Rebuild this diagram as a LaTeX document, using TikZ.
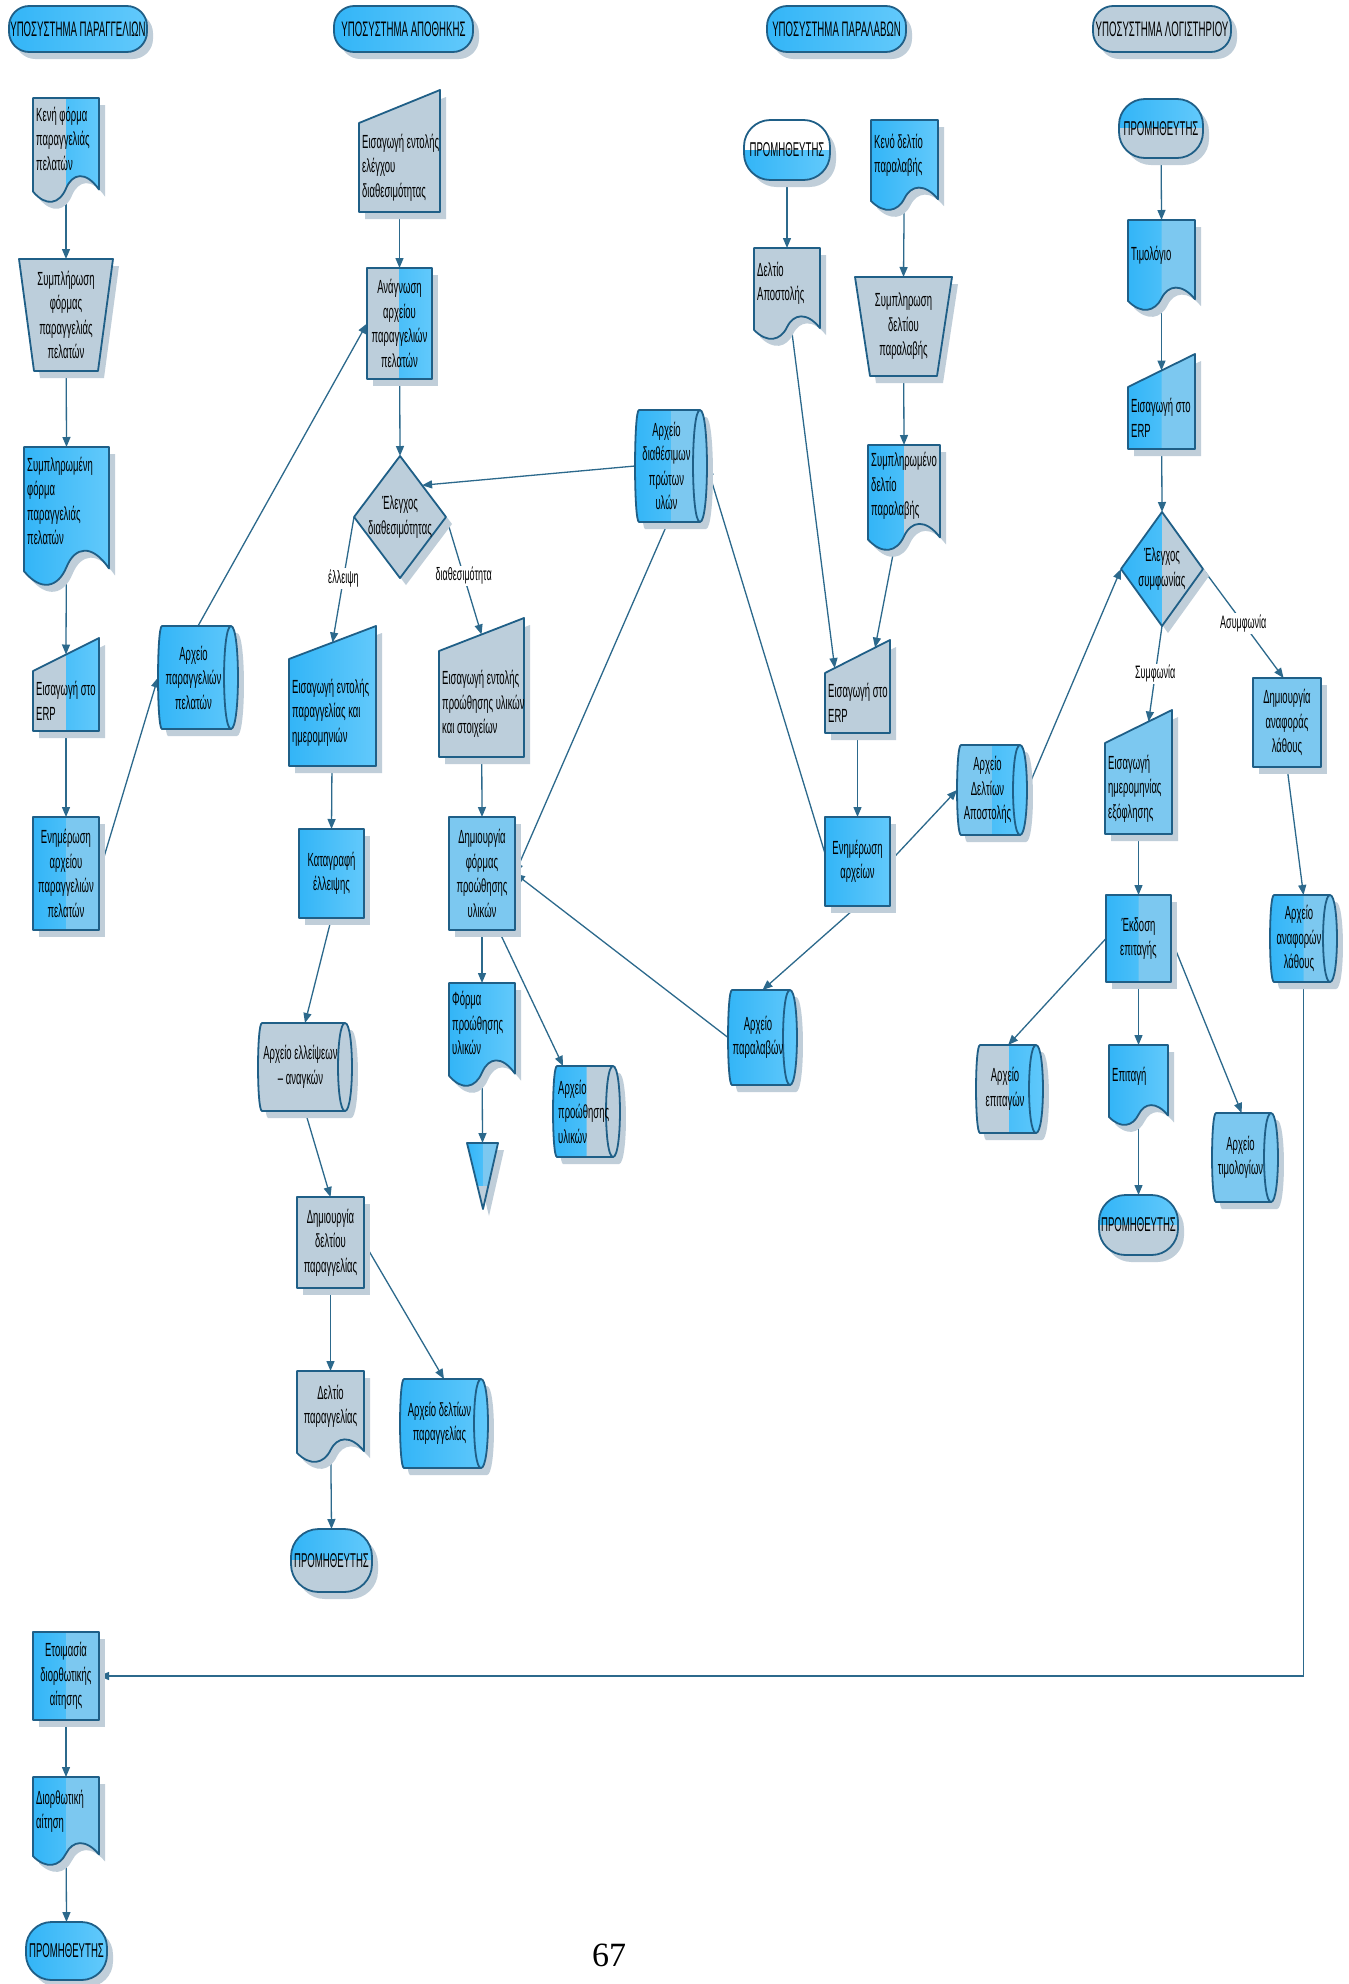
\documentclass[tikz,border=0pt]{standalone}
\usepackage{fontspec}
\newfontfamily\myNarrow[FakeStretch=0.5]{Liberation Sans}
\newfontfamily\myHead[FakeStretch=0.46]{Liberation Sans}
\newfontfamily\myPrm[FakeStretch=0.48]{Liberation Sans}
\newfontfamily\mySerif{Liberation Serif}
\usetikzlibrary{calc,arrows.meta}
\pgfdeclarelayer{bg}
\pgfsetlayers{bg,main}
\definecolor{cbA}{HTML}{33B5F7}
\definecolor{cbB}{HTML}{62C9FB}
\definecolor{cgray}{HTML}{BCCEDB}
\definecolor{chatch}{HTML}{7CC8F0}
\definecolor{coutl}{HTML}{1F5F87}
\definecolor{cline}{HTML}{2C698C}
\definecolor{cshad}{HTML}{C0CED9}
\newcommand{\tfont}{\myNarrow\fontsize{19}{24.5}\selectfont}
\newcommand{\hfont}{\myHead\fontsize{21}{23}\selectfont}
\newcommand{\pfont}{\myPrm\fontsize{20}{22}\selectfont}
\newcommand{\lfont}{\myNarrow\fontsize{18}{20}\selectfont}
\tikzset{
 fB/.style={left color=cbA,right color=cbB},
 fG/.style={fill=cgray},
 fH/.style={fill=chatch},
 fW/.style={fill=white},
 outl/.style={draw=coutl,line width=1.8pt,line join=round},
 shadowc/.style={fill=cshad},
 box/.style={rectangle,inner sep=0pt,outer sep=0pt},
 txl/.style={font=\tfont,inner sep=0pt,anchor=west,align=left},
 txc/.style={font=\tfont,inner sep=0pt,align=center},
 hdr/.style={font=\hfont,inner sep=0pt,align=center},
 prm/.style={font=\pfont,inner sep=0pt,align=center},
 lab/.style={font=\lfont,fill=white,inner sep=1.5pt},
 con/.style={draw=cline,line width=1.3pt,-{Triangle[length=10pt,width=8pt]}},
}
% generic shape: shadow, fill A, fill B in clip region, outline
\newcommand{\shp}[5][]{%
 \fill[shadowc,shift={(6,7)},#1] #2;
 \fill[#1,#3] #2;
 \begin{scope}\clip #5; \fill[#1,#4] #2;\end{scope}
 \draw[outl,#1] #2;}
\newcommand{\setdims}[5]{%
 \pgfmathsetmacro\sW{(#4)-(#2)}\pgfmathsetmacro\sH{(#5)-(#3)}%
 \pgfmathsetmacro\sM{((#2)+(#4))/2}\pgfmathsetmacro\sY{((#3)+(#5))/2}%
 \node[box,minimum width=\sW pt,minimum height=\sH pt] (#1) at (\sM,\sY) {};%
 \coordinate (#1-C) at (\sM,\sY);}
\newcommand{\Rect}[7]{\setdims{#1}{#2}{#3}{#4}{#5}%
 \shp{(#2,#3) rectangle (#4,#5)}{#6}{#7}{(\sM,#3-10) rectangle (#4+10,#5+10)}}
\newcommand{\Trap}[7]{\setdims{#1}{#2}{#3}{#4}{#5}%
 \shp{(#2,#3) -- (#4,#3) -- (#4-15,#5) -- (#2+15,#5) -- cycle}{#6}{#7}{(\sM,#3-10) rectangle (#4+10,#5+10)}}
\newcommand{\Doc}[7]{\setdims{#1}{#2}{#3}{#4}{#5}%
 \shp{(#2,#3) -- (#4,#3) -- (#4,#3+.88*\sH) .. controls (#2+.8*\sW,#3+.70*\sH) and (#2+.6*\sW,#3+.72*\sH) .. (\sM,#3+.87*\sH) .. controls (#2+.4*\sW,#3+1.02*\sH) and (#2+.2*\sW,#3+1.05*\sH) .. (#2,#3+.9*\sH) -- cycle}{#6}{#7}{(\sM,#3-10) rectangle (#4+10,#5+10)}%
 \coordinate (#1-L) at (#2+3,#3+.39*\sH);%
 \coordinate (#1-T) at (\sM,#3+.39*\sH);}
\newcommand{\MI}[7]{\setdims{#1}{#2}{#3}{#4}{#5}%
 \shp{(#2,#3+33) -- (#4,#3) -- (#4,#5) -- (#2,#5) -- cycle}{#6}{#7}{(\sM,#3-10) rectangle (#4+10,#5+10)}%
 \coordinate (#1-tl) at (#2,#3+33);\coordinate (#1-tr) at (#4,#3);%
 \coordinate (#1-L) at (#2+3,{(#3+33+#5)/2});}
\newcommand{\Cyl}[7]{\setdims{#1}{#2}{#3}{#4}{#5}%
 \shp{(#2+4,#3) -- (#4-7,#3) .. controls (#4+2.3,#3) and (#4+2.3,#5) .. (#4-7,#5) -- (#2+4,#5) .. controls (#2-1.3,#5) and (#2-1.3,#3) .. (#2+4,#3) -- cycle}{#6}{#7}{(\sM,#3-10) rectangle (#4+10,#5+10)}%
 \draw[outl] (#4-7,#3) .. controls (#4-16.3,#3) and (#4-16.3,#5) .. (#4-7,#5);%
 \coordinate (#1-C) at ({(#2+#4-9)/2},\sY);%
 \coordinate (#1-L) at (#2+5,\sY);}
\newcommand{\Term}[7]{\setdims{#1}{#2}{#3}{#4}{#5}\pgfmathsetmacro\sR{.44*\sH}%
 \shp[rounded corners=\sR pt]{(#2,#3) rectangle (#4,#5)}{#6}{#7}{(\sM,#3-10) rectangle (#4+10,#5+10)}}
\newcommand{\TermH}[7]{\setdims{#1}{#2}{#3}{#4}{#5}\pgfmathsetmacro\sR{.44*\sH}%
 \shp[rounded corners=\sR pt]{(#2,#3) rectangle (#4,#5)}{#6}{#7}{(#2-10,\sY) rectangle (#4+10,#5+10)}}
\newcommand{\Dia}[7]{\setdims{#1}{#2-#4}{#3-#5}{#2+#4}{#3+#5}%
 \shp{(#2,#3-#5) -- (#2+#4,#3) -- (#2,#3+#5) -- (#2-#4,#3) -- cycle}{#6}{#7}{(#2,#3-#5-10) rectangle (#2+#4+10,#3+#5+10)}}

\begin{document}
\begin{tikzpicture}[x=1pt,y=-1pt]
\useasboundingbox (0,0) rectangle (1349,1984);
\begin{pgfonlayer}{bg}\fill[white] (0,0) rectangle (1349,1984);\end{pgfonlayer}

% ---------- headers
\Term{h1}{9}{6}{147}{52}{fB}{fB}
\node[hdr] at (h1-C) {ΥΠΟΣΥΣΤΗΜΑ ΠΑΡΑΓΓΕΛΙΩΝ};
\Term{h2}{334}{6}{473}{52}{fB}{fB}
\node[hdr] at (h2-C) {ΥΠΟΣΥΣΤΗΜΑ ΑΠΟΘΗΚΗΣ};
\Term{h3}{767}{6}{906}{52}{fB}{fB}
\node[hdr] at (h3-C) {ΥΠΟΣΥΣΤΗΜΑ ΠΑΡΑΛΑΒΩΝ};
\Term{h4}{1093}{6}{1231}{52}{fG}{fG}
\node[hdr] at (h4-C) {ΥΠΟΣΥΣΤΗΜΑ ΛΟΓΙΣΤΗΡΙΟΥ};

% ---------- column 1
\Doc{a1}{33}{98}{99}{202}{fG}{fB}
\node[txl] at (a1-L) {Κενή φόρμα\\παραγγελιάς\\πελατών};
\Trap{a2}{19}{259}{113}{371}{fG}{fG}
\node[txc] at (a2-C) {Συμπλήρωση\\φόρμας\\παραγγελιάς\\πελατών};
\Doc{a3}{24}{447}{109}{585}{fB}{fB}
\node[txl] at (a3-L) {Συμπληρωμένη\\φόρμα\\παραγγελιάς\\πελατών};
\MI{a4}{33}{638}{99}{731}{fG}{fB}
\node[txl] at (a4-L) {Εισαγωγή στο\\ERP};
\Rect{a5}{33}{817}{99}{930}{fB}{fH}
\node[txc] at (a5-C) {Ενημέρωση\\αρχείου\\παραγγελιών\\πελατών};
\Cyl{a6}{158}{626}{238}{729}{fB}{fB}
\node[txc] at (a6-C) {Αρχείο\\παραγγελιών\\πελατών};
\Rect{a7}{33}{1632}{99}{1720}{fB}{fH}
\node[txc] at (a7-C) {Ετοιμασία\\διορθωτικής\\αίτησης};
\Doc{a8}{33}{1777}{99}{1865}{fB}{fH}
\node[txl] at (a8-L) {Διορθωτική\\αίτηση};
\Term{a9}{26}{1922}{107}{1980}{fB}{fB}
\node[prm] at (a9-C) {ΠΡΟΜΗΘΕΥΤΗΣ};

% ---------- column 2
\MI{b1}{359}{90}{440}{212}{fG}{fG}
\node[txl] at (b1-L) {Εισαγωγή εντολής\\ελέγχου\\διαθεσιμότητας};
\Rect{b2}{367}{268}{432}{379}{fG}{fB}
\node[txc] at (b2-C) {Ανάγνωση\\αρχείου\\παραγγελιών\\πελατών};
\Dia{b3}{400}{517}{46}{61}{fG}{fG}
\node[txc] at (b3-C) {Έλεγχος\\διαθεσιμότητας};
\MI{b4}{289}{626}{376}{766}{fB}{fB}
\node[txl] at (b4-L) {Εισαγωγή εντολής\\παραγγελίας και\\ημερομηνιών};
\Rect{b5}{299}{829}{364}{918}{fB}{fB}
\node[txc] at (b5-C) {Καταγραφή\\έλλειψης};
\Cyl{b6}{258}{1023}{352}{1111}{fG}{fG}
\node[txc] at (b6-C) {Αρχείο ελλείψεων\\– αναγκών};
\Rect{b7}{297}{1197}{364}{1288}{fG}{fG}
\node[txc] at (b7-C) {Δημιουργία\\δελτίου\\παραγγελίας};
\Doc{b8}{297}{1371}{364}{1462}{fG}{fG}
\node[txc] at (b8-T) {Δελτίο\\παραγγελίας};
\Cyl{b9}{400}{1379}{488}{1468}{fB}{fB}
\node[txc] at (b9-C) {Αρχείο δελτίων\\παραγγελίας};
\TermH{b10}{291}{1529}{372}{1592}{fB}{fG}
\node[prm] at (b10-C) {ΠΡΟΜΗΘΕΥΤΗΣ};
\MI{b11}{439}{618}{524}{757}{fG}{fG}
\node[txl] at (b11-L) {Εισαγωγή εντολής\\προώθησης υλικών\\και στοιχείων};
\Rect{b12}{449}{817}{515}{930}{fH}{fH}
\node[txc] at (b12-C) {Δημιουργία\\φόρμας\\προώθησης\\υλικών};
\Doc{b13}{449}{983}{515}{1086}{fB}{fB}
\node[txl] at (b13-L) {Φόρμα\\προώθησης\\υλικών};
% off-page connector
\fill[shadowc] (473,1150) -- (504,1150) -- (489,1216) -- cycle;
\fill[fG] (467,1143) -- (498,1143) -- (483,1209) -- cycle;
\begin{scope}
 \clip (460,1130) rectangle (510,1185);
 \fill[fB] (467,1143) -- (498,1143) -- (483,1209) -- cycle;
 \clip (483,1130) rectangle (510,1185);
 \fill[fH] (467,1143) -- (498,1143) -- (483,1209) -- cycle;
\end{scope}
\draw[outl] (467,1143) -- (498,1143) -- (483,1209) -- cycle;
\node[box,minimum width=31pt,minimum height=66pt] (b14) at (482.5,1176) {};
\Cyl{b15}{553}{1066}{620}{1157}{fB}{fG}
\node[txl] at (b15-L) {Αρχείο\\προώθησης\\υλικών};

% ---------- column 3
\TermH{c1}{744}{120}{830}{180}{fW}{fB}
\node[prm] at (c1-C) {ΠΡΟΜΗΘΕΥΤΗΣ};
\Doc{c2}{754}{248}{820}{339}{fG}{fG}
\node[txl] at (c2-L) {Δελτίο\\Αποστολής};
\Doc{c3}{871}{120}{938}{210}{fB}{fB}
\node[txl] at (c3-L) {Κενό δελτίο\\παραλαβής};
\Trap{c4}{855}{277}{952}{376}{fG}{fG}
\node[txc] at (c4-C) {Συμπληρωση\\δελτίου\\παραλαβής};
\Doc{c5}{868}{445}{940}{550}{fB}{fG}
\node[txl] at (c5-L) {Συμπληρωμένο\\δελτίο\\παραλαβής};
\MI{c6}{825}{640}{890}{733}{fG}{fG}
\node[txl] at (c6-L) {Εισαγωγή στο\\ERP};
\Rect{c7}{825}{817}{890}{906}{fB}{fB}
\node[txc] at (c7-C) {Ενημέρωση\\αρχείων};
\Cyl{c8}{635}{410}{707}{522}{fB}{fH}
\node[txc] at (c8-C) {Αρχείο\\διαθέσιμων\\πρώτων\\υλών};
\Cyl{c9}{728}{990}{797}{1085}{fB}{fB}
\node[txc] at (c9-C) {Αρχείο\\παραλαβών};
\Cyl{c10}{957}{745}{1027}{835}{fH}{fB}
\node[txc] at (c10-C) {Αρχείο\\Δελτίων\\Αποστολής};

% ---------- column 4
\TermH{d1}{1119}{99}{1203}{158}{fB}{fG}
\node[prm] at (d1-C) {ΠΡΟΜΗΘΕΥΤΗΣ};
\Doc{d2}{1128}{220}{1195}{310}{fB}{fH}
\node[txl] at (d2-L) {Τιμολόγιο};
\MI{d3}{1128}{354}{1195}{449}{fB}{fH}
\node[txl] at (d3-L) {Εισαγωγή στο\\ERP};
\Dia{d4}{1162}{569}{41}{57}{fB}{fG}
\node[txc] at (d4-C) {Έλεγχος\\συμφωνίας};
\Rect{d5}{1253}{678}{1321}{767}{fH}{fH}
\node[txc] at (d5-C) {Δημιουργία\\αναφοράς\\λάθους};
\Cyl{d6}{1270}{895}{1337}{982}{fB}{fH}
\node[txc] at (d6-C) {Αρχείο\\αναφορών\\λάθους};
\MI{d7}{1105}{710}{1172}{834}{fH}{fH}
\node[txl] at (d7-L) {Εισαγωγή\\ημερομηνίας\\εξόφλησης};
\Rect{d8}{1106}{895}{1171}{982}{fB}{fH}
\node[txc] at (d8-C) {Έκδοση\\επιταγής};
\Cyl{d9}{976}{1045}{1043}{1133}{fG}{fB}
\node[txc] at (d9-C) {Αρχείο\\επιταγών};
\Doc{d10}{1109}{1045}{1168}{1125}{fB}{fB}
\node[txl] at (d10-L) {Επιταγή};
\TermH{d11}{1099}{1195}{1178}{1255}{fB}{fG}
\node[prm] at (d11-C) {ΠΡΟΜΗΘΕΥΤΗΣ};
\Cyl{d12}{1212}{1113}{1278}{1202}{fH}{fH}
\node[txc] at (d12-C) {Αρχείο\\τιμολογίων};

% page number
\node[font=\mySerif\fontsize{34}{36}\selectfont,inner sep=0pt] (pg) at (609,1955) {67};

% ---------- connectors
\begin{pgfonlayer}{bg}
\draw[con] (a1.center) -- (a2.north);
\draw[con] (a2.center) -- (a3.north);
\draw[con] (a3.center) -- ($(a4-tl)!.5!(a4-tr)$);
\draw[con] (a4.center) -- (a5.north);
\draw[con] (a5.east) -- (a6.west);
\draw[con] (a6.north) -- (b2.west);
\draw[con] (a7.center) -- (a8.north);
\draw[con] (a8.center) -- (a9.north);
\draw[con] (d6.center) |- (a7.east);
\draw[con] (b1.center) -- (b2.north);
\draw[con] (b2.center) -- (b3.north);
\draw[con] (c8.west) -- ($(b3.north)!.48!(b3.east)$);
\draw[con] (b3.west) -- node[lab,pos=.49]{έλλειψη} ($(b4-tl)!.5!(b4-tr)$);
\draw[con] (b3.east) -- node[lab,pos=.5]{διαθεσιμότητα} ($(b11-tl)!.5!(b11-tr)$);
\draw[con] (b4.center) -- (b5.north);
\draw[con] (b5.south) -- (b6.north);
\draw[con] (b6.south) -- (b7.north);
\draw[con] (b7.center) -- (b8.north);
\draw[con] (b7.east) -- (b9.north);
\draw[con] (b8.center) -- (b10.north);
\draw[con] (b11.center) -- (b12.north);
\draw[con] (b12.center) -- (b13.north);
\draw[con] ($(b12.south west)!.75!(b12.south east)$) -- ($(b15.north west)!.15!(b15.north east)$);
\draw[con] (b13.center) -- (b14.north);
\draw[con] ($(c8.south west)!.46!(c8.south east)$) -- (b12.east);
\draw[con] (c9.west) -- (b12.east);
\draw[con] (c1.center) -- (c2.north);
\draw[con] (c2.center) -- ($(c6-tl)!.15!(c6-tr)$);
\draw[con] (c3.center) -- (c4.north);
\draw[con] (c4.center) -- (c5.north);
\draw[con] (c5.center) -- ($(c6-tl)!.77!(c6-tr)$);
\draw[con] (c6.center) -- (c7.north);
\draw[con] ([yshift=8pt]c7.west) -- (c8.east);
\draw[con] (c7.east) -- (c10.west);
\draw[con] (c7.south) -- (c9.north);
\draw[con] (c10.east) -- (d4.west);
\draw[con] (d1.center) -- (d2.north);
\draw[con] (d2.center) -- ($(d3-tl)!.5!(d3-tr)$);
\draw[con] (d3.center) -- (d4.north);
\draw[con] (d4.south) -- node[lab,pos=.5]{Συμφωνία} ($(d7-tl)!.65!(d7-tr)$);
\draw[con] (d4.east) -- node[lab,pos=.5]{Ασυμφωνία} ($(d5.north west)!.45!(d5.north east)$);
\draw[con] (d5.south) -- (d6.north);
\draw[con] (d7.center) -- (d8.north);
\draw[con] (d8.center) -- (d10.north);
\draw[con] (d10.center) -- (d11.north);
\draw[con] (d8.west) -- ($(d9.north west)!.48!(d9.north east)$);
\draw[con] (d8.east) -- ($(d12.north west)!.45!(d12.north east)$);
\end{pgfonlayer}
\end{tikzpicture}
\end{document}
